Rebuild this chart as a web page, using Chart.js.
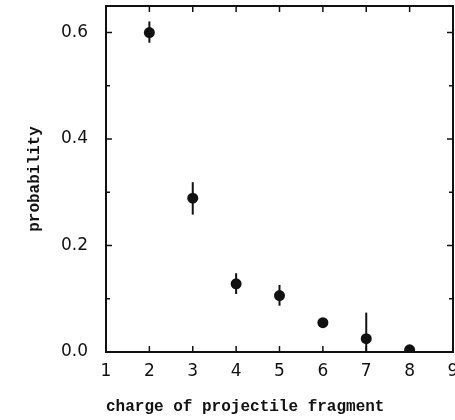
<!DOCTYPE html>
<html>
<head>
<meta charset="utf-8">
<script src="https://cdn.jsdelivr.net/npm/chart.js@4/dist/chart.umd.min.js"></script>
<style>
  html, body { margin: 0; padding: 0; background: #fff; }
  #wrap { width: 455px; height: 420px; position: relative; }
</style>
</head>
<body>
<div id="wrap"><canvas id="c" width="455" height="420"></canvas></div>
<script>
// ---- data ----
const charges = [2, 3, 4, 5, 6, 7, 8];
const probability = [0.600, 0.289, 0.128, 0.106, 0.055, 0.025, 0.004];
const errLow  = [0.581, 0.258, 0.109, 0.087, 0.055, 0.000, 0.004];
const errHigh = [0.621, 0.319, 0.148, 0.126, 0.055, 0.074, 0.004];
const xTicks = [1, 2, 3, 4, 5, 6, 7, 8, 9];
const yTicks = [0.0, 0.2, 0.4, 0.6];
const yMinorTicks = [0.1, 0.3, 0.5];
const xTitle = 'charge of projectile fragment';
const yTitle = 'probability';

const INK = '#111';

const errorBars = {
  id: 'errorBars',
  beforeDatasetsDraw(chart) {
    const {ctx, scales: {x, y}} = chart;
    ctx.save();
    ctx.strokeStyle = INK;
    ctx.lineWidth = 2;
    charges.forEach((c, i) => {
      if (errHigh[i] === errLow[i]) return;
      const px = x.getPixelForValue(c);
      ctx.beginPath();
      ctx.moveTo(px, y.getPixelForValue(errLow[i]));
      ctx.lineTo(px, y.getPixelForValue(errHigh[i]));
      ctx.stroke();
    });
    ctx.restore();
  }
};

const frame = {
  id: 'frame',
  afterDraw(chart) {
    const {ctx, chartArea: a, scales: {x, y}} = chart;
    ctx.save();
    ctx.strokeStyle = INK;
    ctx.lineWidth = 2;
    ctx.strokeRect(a.left, a.top, a.right - a.left, a.bottom - a.top);
    ctx.lineWidth = 1.5;
    ctx.beginPath();
    xTicks.forEach(v => {
      const px = x.getPixelForValue(v);
      ctx.moveTo(px, a.bottom); ctx.lineTo(px, a.bottom - 6);
      ctx.moveTo(px, a.top); ctx.lineTo(px, a.top + 6);
    });
    yTicks.forEach(v => {
      const py = y.getPixelForValue(v);
      ctx.moveTo(a.left, py); ctx.lineTo(a.left + 6, py);
      ctx.moveTo(a.right, py); ctx.lineTo(a.right - 6, py);
    });
    yMinorTicks.forEach(v => {
      const py = y.getPixelForValue(v);
      ctx.moveTo(a.left, py); ctx.lineTo(a.left + 4, py);
      ctx.moveTo(a.right, py); ctx.lineTo(a.right - 4, py);
    });
    ctx.stroke();
    ctx.restore();
  }
};

new Chart(document.getElementById('c'), {
  type: 'scatter',
  data: {
    datasets: [{
      data: charges.map((c, i) => ({x: c, y: probability[i]})),
      backgroundColor: INK,
      borderColor: INK,
      pointRadius: 5.5,
      pointHoverRadius: 5.5,
      borderWidth: 0
    }]
  },
  options: {
    responsive: false,
    animation: false,
    events: [],
    layout: { autoPadding: false, padding: { top: 6, right: 2, left: 0, bottom: 0 } },
    plugins: { legend: { display: false }, tooltip: { enabled: false } },
    scales: {
      x: {
        type: 'linear',
        min: 1, max: 9,
        afterBuildTicks: s => { s.ticks = xTicks.map(v => ({value: v})); },
        afterFit: s => { s.height = 68; s.paddingLeft = 0; s.paddingRight = 0; },
        grid: { display: false, drawTicks: false },
        border: { display: false },
        ticks: {
          padding: 9,
          color: INK,
          font: { family: 'DejaVu Sans', size: 17 },
          callback: v => String(v)
        },
        title: {
          display: true,
          align: 'start',
          text: xTitle,
          color: INK,
          font: { family: 'Liberation Mono', size: 16, weight: 'bold' },
          padding: { top: 0, bottom: 3 }
        }
      },
      y: {
        type: 'linear',
        min: 0, max: 0.65,
        afterBuildTicks: s => { s.ticks = yTicks.map(v => ({value: v})); },
        afterFit: s => { s.width = 106; s.paddingTop = 0; s.paddingBottom = 0; },
        grid: { display: false, drawTicks: false },
        border: { display: false },
        ticks: {
          padding: 18,
          color: INK,
          font: { family: 'DejaVu Sans', size: 17 },
          callback: v => v.toFixed(1)
        },
        title: {
          display: true,
          text: yTitle,
          color: INK,
          font: { family: 'Liberation Mono', size: 16, weight: 'bold' },
          padding: { top: 25, bottom: 0 }
        }
      }
    }
  },
  plugins: [errorBars, frame]
});
</script>
</body>
</html>
